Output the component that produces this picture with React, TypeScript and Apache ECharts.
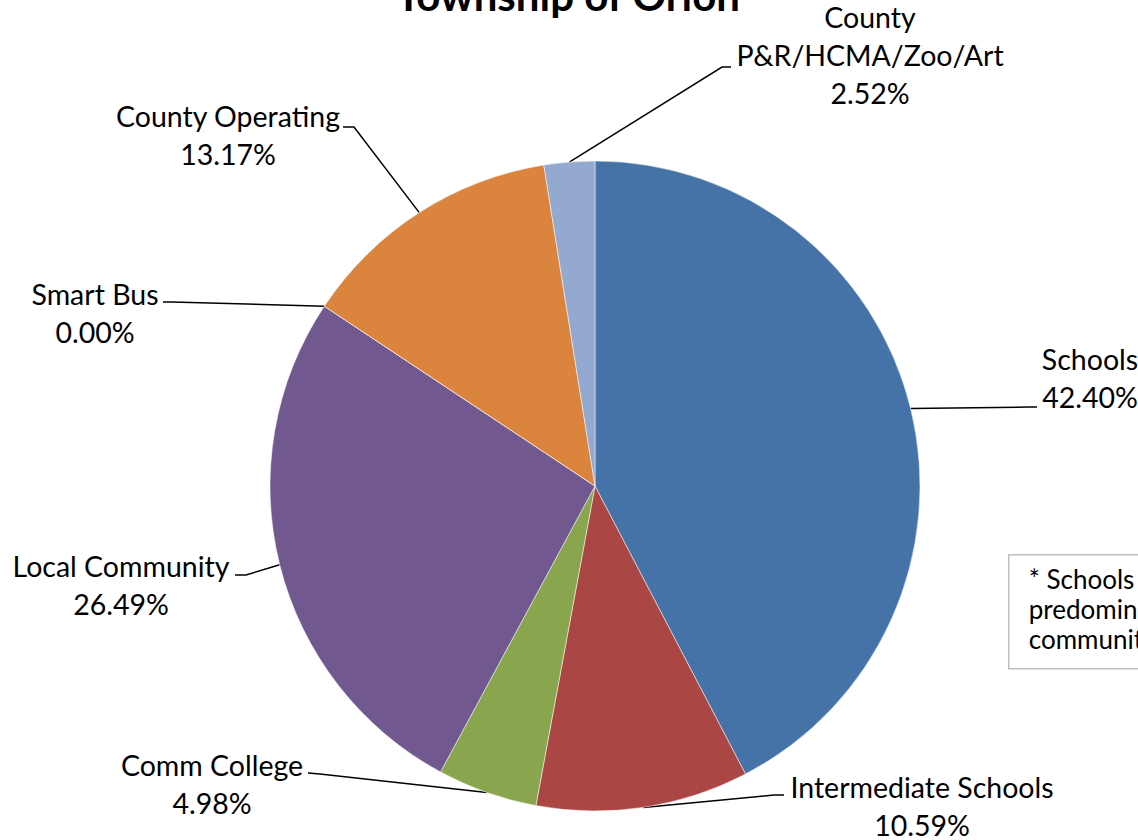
import React, { useEffect, useRef } from "react";
import * as echarts from "echarts";

const categories = [
  "Schools",
  "Intermediate Schools",
  "Comm College",
  "Local Community",
  "Smart Bus",
  "County Operating",
  "County\nP&R/HCMA/Zoo/Art",
];
const values = [42.4, 10.59, 4.98, 26.49, 0.0, 13.17, 2.52];
const colors = ["#4572A7", "#AA4643", "#89A54E", "#71588F", "#4198AF", "#DB843D", "#93A9CF"];

// label layout: [labelCenterX, labelCenterY, elbowX, elbowY, endX, endY]
const labelLayoutPos = [
  [1090, 378, 1028, 407, 1037, 407],
  [922, 806, 774, 795, 784, 795],
  [212, 784, 320, 774, 308, 773],
  [121, 585, 246, 575, 235, 575],
  [95, 313, 172, 302, 163, 302],
  [228, 135, 354, 127, 343, 127],
  [870, 55, 722, 67, 731, 67],
];

const FONT = "Lato, 'Open Sans', sans-serif";

export default function App() {
  const ref = useRef<HTMLDivElement>(null);
  useEffect(() => {
    if (!ref.current) return;
    const chart = echarts.init(ref.current, undefined, { renderer: "svg" });
    chart.setOption({
      animation: false,
      backgroundColor: "#ffffff",
      title: {
        text: "Township of Orion",
        left: 563,
        top: -31,
        textAlign: "center",
        textStyle: { fontFamily: FONT, fontSize: 42, fontWeight: "bold", color: "#000" },
      },
      graphic: [
        {
          type: "group",
          left: 1008,
          top: 554,
          children: [
            {
              type: "rect",
              shape: { x: 0, y: 0, width: 220, height: 114 },
              style: { fill: "#fff", stroke: "#bfbfbf", lineWidth: 1.5 },
            },
            {
              type: "text",
              x: 20,
              y: 9,
              style: {
                text: "* Schools\npredominantly\ncommunity",
                fontFamily: FONT,
                fontSize: 26,
                lineHeight: 30,
                fill: "#000",
              },
            },
          ],
        },
      ],
      series: [
        {
          type: "pie",
          center: [595, 486],
          radius: [0, 325],
          startAngle: 90,
          clockwise: true,
          color: colors,
          itemStyle: { borderColor: "rgba(255,255,255,0.5)", borderWidth: 1 },
          data: categories.map((c, i) => ({ name: c, value: values[i] })),
          label: {
            show: true,
            position: "outside",
            formatter: (p: any) => `${p.name}\n${Number(p.value).toFixed(2)}%`,
            fontFamily: FONT,
            fontSize: 28.5,
            lineHeight: 38,
            color: "#000",
            align: "center",
          },
          labelLine: {
            show: true,
            lineStyle: { color: "#000", width: 1.5 },
          },
          labelLayout: (params: any) => {
            const L = labelLayoutPos[params.dataIndex];
            const start = params.labelLinePoints ? params.labelLinePoints[0] : [L[2], L[3]];
            return {
              x: L[0],
              y: L[1],
              align: "center",
              verticalAlign: "middle",
              labelLinePoints: [start, [L[2], L[3]], [L[4], L[5]]],
            };
          },
          emphasis: { disabled: true },
        },
      ],
    });
    return () => chart.dispose();
  }, []);
  return (
    <div
      ref={ref}
      style={{ position: "fixed", left: 0, top: 0, width: 1138, height: 840 }}
    />
  );
}
